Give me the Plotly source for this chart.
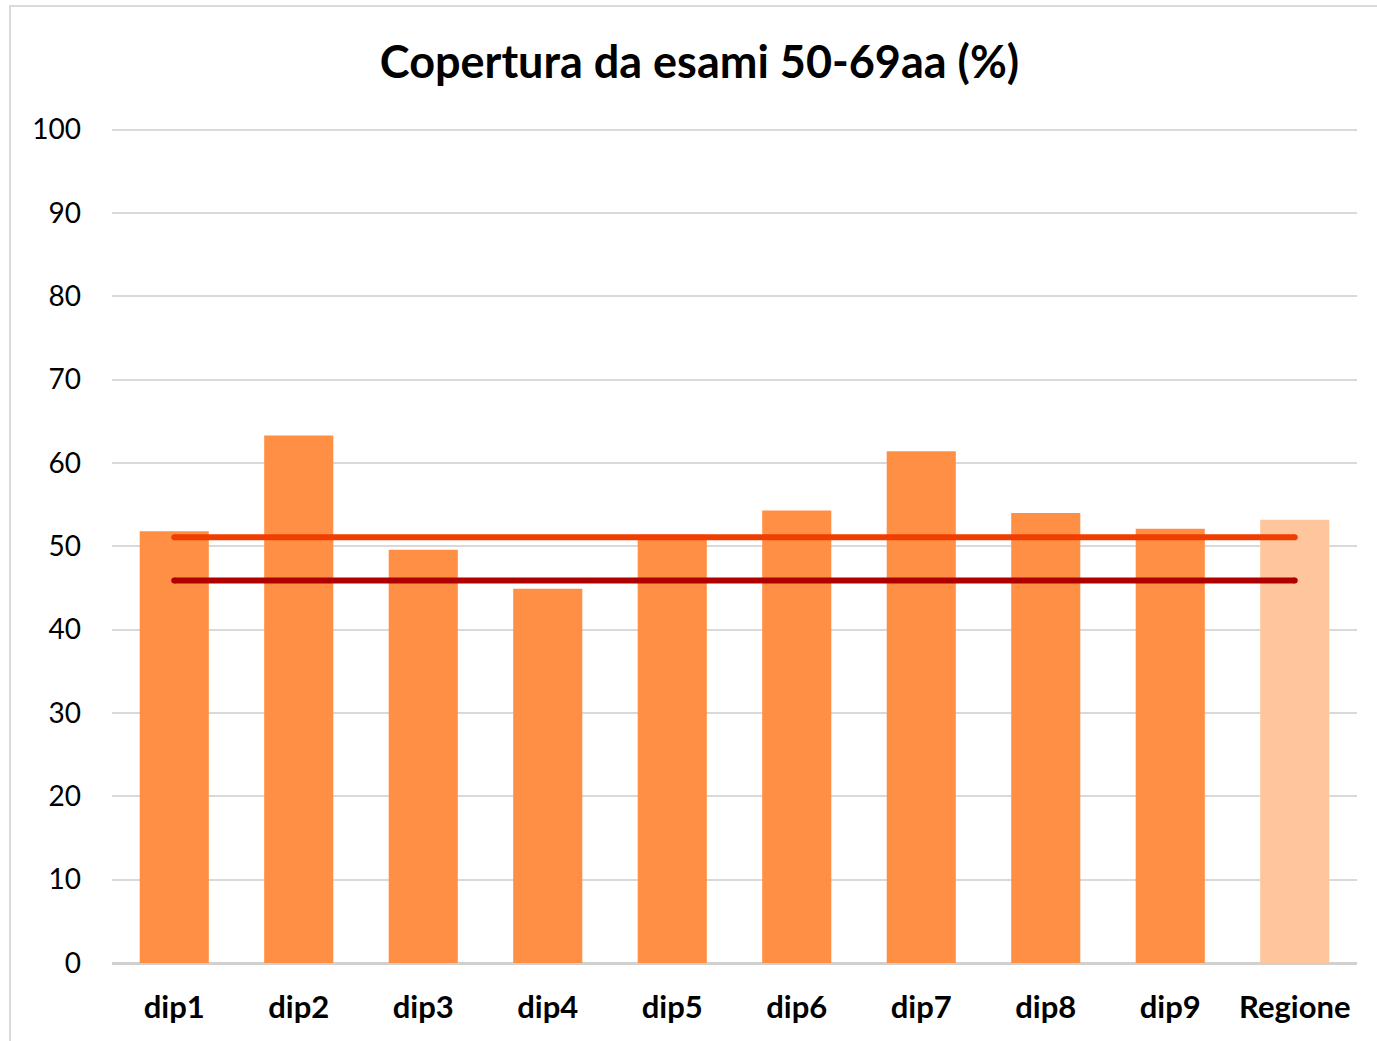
import plotly.graph_objects as go

categories = ["dip1", "dip2", "dip3", "dip4", "dip5", "dip6", "dip7", "dip8", "dip9", "Regione"]
coverage = [51.8, 63.3, 49.6, 44.9, 51.4, 54.3, 61.4, 54.0, 52.1, 53.2]
bar_colors = ["#FF8F45"] * 9 + ["#FFC59C"]
line_upper = [51.1] * len(categories)
line_lower = [45.9] * len(categories)
y_ticks = [0, 10, 20, 30, 40, 50, 60, 70, 80, 90, 100]

W, H = 1377, 1041
L, R, T, B = 112, 20, 128, 78
pw, ph = W - L - R, H - T - B

fig = go.Figure()
fig.add_trace(go.Bar(x=categories, y=coverage, marker=dict(color=bar_colors, line=dict(width=0)),
                     width=0.555, showlegend=False, hoverinfo="x+y"))
for vals, col in ((line_upper, "#F23D00"), (line_lower, "#AF0000")):
    fig.add_trace(go.Scatter(x=categories, y=vals, mode="lines",
                             line=dict(color=col, width=6), showlegend=False))
    fig.add_trace(go.Scatter(x=[categories[0], categories[-1]], y=[vals[0], vals[-1]], mode="markers",
                             marker=dict(color=col, size=6, line=dict(width=0)),
                             showlegend=False, hoverinfo="skip"))

fig.update_layout(
    width=W, height=H,
    margin=dict(l=L, r=R, t=T, b=B, autoexpand=False),
    paper_bgcolor="white", plot_bgcolor="white",
    font=dict(family="Lato, 'Open Sans', sans-serif", color="black"),
    title=dict(text="<b>Copertura da esami 50-69aa (%)</b>", x=0.508, xref="container",
               xanchor="center", y=1 - 62 / H, yref="container", yanchor="middle",
               font=dict(size=45, family="Lato, sans-serif", color="black")),
    xaxis=dict(showgrid=False, showline=False, ticks="", ticklabelstandoff=23,
               range=[-0.5, 9.5],
               tickfont=dict(size=31, family="Lato, sans-serif", color="black"),
               tickprefix="<b>", ticksuffix="</b>"),
    yaxis=dict(range=[0, 100.2], tickvals=y_ticks, showgrid=True, gridcolor="#D9D9D9", gridwidth=2,
               zeroline=True, zerolinecolor="#D0D0D0", zerolinewidth=3,
               showline=False, ticks="", ticklabelstandoff=30,
               tickfont=dict(size=28, family="Lato, sans-serif", color="black")),
    shapes=[dict(type="rect", xref="paper", yref="paper",
                 x0=(10 - L) / pw, x1=(W + 20 - L) / pw,
                 y0=-(B + 20) / ph, y1=1 + (T - 6) / ph,
                 line=dict(color="#D9D9D9", width=2), fillcolor="rgba(0,0,0,0)", layer="below")],
)

fig.write_html("out.html", config={"displayModeBar": False},
               post_script="document.body.style.margin='0';document.body.style.overflow='hidden';")
